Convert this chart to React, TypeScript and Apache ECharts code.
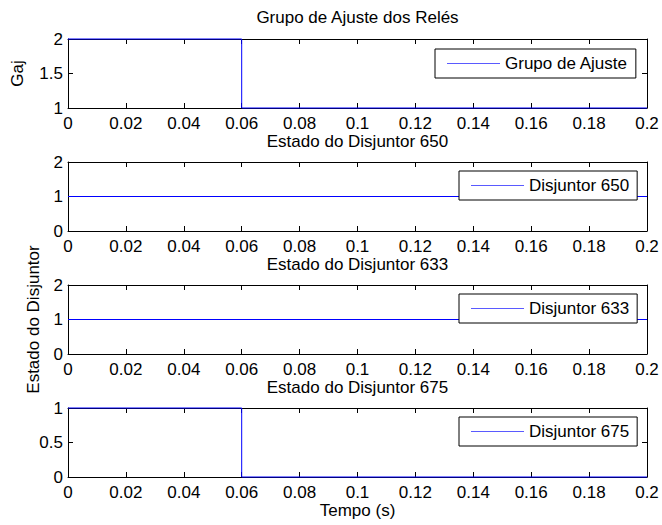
import React, { useEffect, useRef } from "react";
import * as echarts from "echarts";

// ---- data ----
const chartTitle = "Grupo de Ajuste dos Relés";
const subTitles = [
  "",
  "Estado do Disjuntor 650",
  "Estado do Disjuntor 633",
  "Estado do Disjuntor 675",
];
const seriesNames = ["Grupo de Ajuste", "Disjuntor 650", "Disjuntor 633", "Disjuntor 675"];

const tGrupo = [0, 0.06, 0.06, 0.2];
const grupoAjuste = [2, 2, 1, 1];
const t650 = [0, 0.2];
const disj650 = [1, 1];
const t633 = [0, 0.2];
const disj633 = [1, 1];
const t675 = [0, 0.06, 0.06, 0.2];
const disj675 = [1, 1, 0, 0];

const xMin = 0;
const xMax = 0.2;
const xStep = 0.02;
const yMins = [1, 0, 0, 0];
const yMaxs = [2, 2, 2, 1];
const ySteps = [0.5, 1, 1, 0.5];

const yLabelGaj = "Gaj";
const yLabelEstado = "Estado do Disjuntor";
const xLabel = "Tempo (s)";

// ---- layout ----
const W = 662;
const H = 525;
const gridLeft = 68;
const gridRight = 647;
const gridTops = [39, 162, 285, 408];
const gridH = 69;
const FONT = "'Liberation Sans', Arial, Helvetica, sans-serif";
const FS = 17;
const BLUE = "#0000ff";

const zip = (xs: number[], ys: number[]) => xs.map((x, i) => [x, ys[i]]);
const seriesData = [
  zip(tGrupo, grupoAjuste),
  zip(t650, disj650),
  zip(t633, disj633),
  zip(t675, disj675),
];

const fmtNum = (v: number) => String(parseFloat(Number(v).toFixed(3)));

export default function App() {
  const ref = useRef<HTMLDivElement>(null);
  useEffect(() => {
    if (!ref.current) return;
    const chart = echarts.init(ref.current, undefined, { renderer: "svg" });

    const grid: any[] = [];
    const xAxis: any[] = [];
    const yAxis: any[] = [];
    const series: any[] = [];
    const legend: any[] = [];
    const legendLefts = [435, 459, 459, 459];
    const legendTops = [49, 171, 294, 417];

    gridTops.forEach((top, i) => {
      grid.push({
        left: gridLeft,
        top,
        width: gridRight - gridLeft,
        height: gridH,
        show: false,
      });
      const common = {
        gridIndex: i,
        type: "value",
        axisLine: { show: true, onZero: false, lineStyle: { color: "#000", width: 1 } },
        axisTick: { show: true, inside: true, length: 5, lineStyle: { color: "#000", width: 1 } },
        splitLine: { show: false },
      };
      xAxis.push({
        ...common,
        position: "bottom",
        min: xMin,
        max: xMax,
        interval: xStep,
        axisLabel: {
          show: true,
          margin: 7,
          lineHeight: 17,
          color: "#000",
          fontSize: FS,
          fontFamily: FONT,
          formatter: fmtNum,
        },
      });
      xAxis.push({
        ...common,
        position: "top",
        min: xMin,
        max: xMax,
        interval: xStep,
        axisLabel: { show: false },
      });
      yAxis.push({
        ...common,
        position: "left",
        min: yMins[i],
        max: yMaxs[i],
        interval: ySteps[i],
        axisLabel: {
          show: true,
          margin: 5,
          color: "#000",
          fontSize: FS,
          fontFamily: FONT,
          formatter: fmtNum,
        },
      });
      yAxis.push({
        ...common,
        position: "right",
        min: yMins[i],
        max: yMaxs[i],
        interval: ySteps[i],
        axisLabel: { show: false },
      });
      series.push({
        name: seriesNames[i],
        type: "line",
        xAxisIndex: i * 2,
        yAxisIndex: i * 2,
        data: seriesData[i],
        symbol: "none",
        showSymbol: false,
        clip: false,
        lineStyle: { color: BLUE, width: 1 },
        itemStyle: { color: BLUE },
        z: 3,
      });
      legend.push({
        data: [{ name: seriesNames[i], icon: "rect" }],
        left: legendLefts[i],
        top: legendTops[i],
        orient: "horizontal",
        backgroundColor: "#fff",
        borderColor: "#000",
        borderWidth: 1,
        borderRadius: 0,
        padding: [6, 8, 6, 12],
        itemWidth: 53,
        itemHeight: 1,
        selectedMode: false,
        itemStyle: { color: "#5a5aff", borderWidth: 0 },
        textStyle: { color: "#000", fontSize: FS, fontFamily: FONT },
        z: 10,
      });
    });

    const cx = (gridLeft + gridRight) / 2;
    const title: any[] = [
      { text: chartTitle, top: 9 },
      ...subTitles.slice(1).map((t, k) => ({ text: t, top: 133 + k * 123 })),
    ].map((t) => ({
      ...t,
      left: cx,
      textAlign: "center",
      padding: 0,
      textStyle: { color: "#000", fontSize: FS, fontWeight: "normal", fontFamily: FONT },
    }));

    const graphic: any[] = [
      {
        type: "text",
        x: 17,
        y: gridTops[0] + gridH / 2,
        rotation: Math.PI / 2,
        style: {
          text: yLabelGaj,
          fill: "#000",
          font: `${FS}px ${FONT}`,
          align: "center",
          verticalAlign: "middle",
        },
      },
      {
        type: "text",
        x: 33,
        y: gridTops[2] + gridH / 2,
        rotation: Math.PI / 2,
        style: {
          text: yLabelEstado,
          fill: "#000",
          font: `${FS}px ${FONT}`,
          align: "center",
          verticalAlign: "middle",
        },
      },
      {
        type: "text",
        x: cx,
        y: 502,
        style: {
          text: xLabel,
          fill: "#000",
          font: `${FS}px ${FONT}`,
          lineHeight: 17,
          align: "center",
          verticalAlign: "top",
        },
      },
    ];

    chart.setOption({
      animation: false,
      backgroundColor: "#fff",
      title,
      grid,
      xAxis,
      yAxis,
      series,
      legend,
      graphic,
    });
    return () => chart.dispose();
  }, []);
  return (
    <div
      ref={ref}
      style={{ position: "fixed", left: 0, top: 0, width: W, height: H }}
    />
  );
}
